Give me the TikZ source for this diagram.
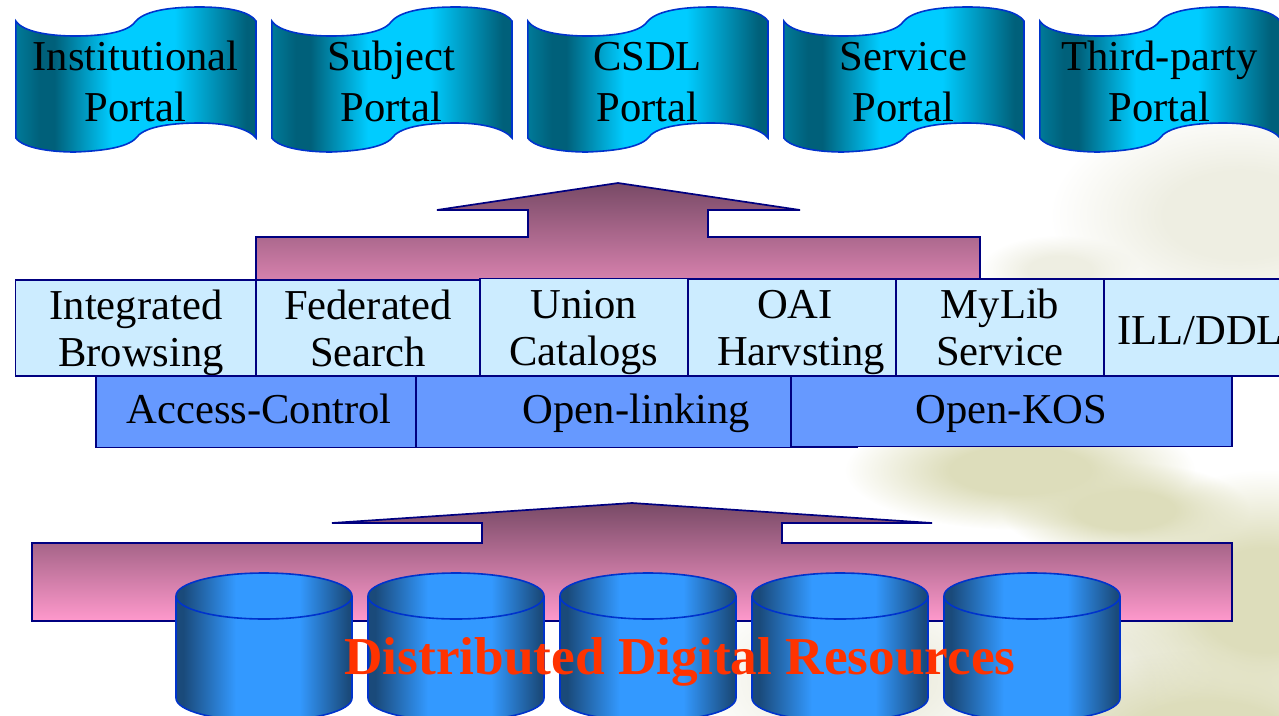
\documentclass[tikz,border=0pt]{standalone}
\usepackage{fontspec}
\setmainfont{Liberation Serif}
\usetikzlibrary{fadings}

\definecolor{bannerline}{HTML}{0033CC}
\definecolor{boxline}{HTML}{000080}
\definecolor{arrowtop}{HTML}{784A66}
\definecolor{arrowbot}{HTML}{FF99CC}
\definecolor{lightbox}{HTML}{CCECFF}
\definecolor{midbox}{HTML}{6699FF}
\definecolor{canlight}{HTML}{3399FF}
\definecolor{candark}{HTML}{1A4A7A}
\definecolor{bandark}{HTML}{00607A}
\definecolor{banedge}{HTML}{007A99}
\definecolor{banlight}{HTML}{00CCFF}
\definecolor{blobcol}{HTML}{DDDDBB}
\definecolor{blobpale}{HTML}{EEEEE2}
\definecolor{titlecol}{HTML}{FF3300}

\pgfdeclarehorizontalshading{bannershade}{100bp}{color(0bp)=(banedge); color(25bp)=(banedge); color(30bp)=(bandark); color(33bp)=(bandark); color(45bp)=(banlight); color(58bp)=(banlight); color(73bp)=(bandark); color(100bp)=(bandark)}
\pgfdeclarehorizontalshading{canshade}{100bp}{color(0bp)=(candark); color(27bp)=(candark); color(42bp)=(canlight); color(60bp)=(canlight); color(74bp)=(candark); color(100bp)=(candark)}
\pgfdeclareradialshading{softmask}{\pgfpointorigin}{color(0bp)=(white); color(10bp)=(white); color(25bp)=(black); color(50bp)=(black)}
\pgfdeclarefading{softblob}{\pgfuseshading{softmask}}

\tikzset{
  portaltext/.style={align=center, inner sep=0pt, text height=80pt, text depth=0pt, font=\fontsize{42.6}{51}\selectfont},
  topbox/.style={draw=boxline, line width=1.5pt, fill=lightbox, anchor=north west, align=center, inner sep=0pt, outer sep=0pt, font=\fontsize{42.6}{47}\selectfont},
  twoline/.style={text height=76pt, text depth=0pt},
  midrow/.style={draw=boxline, line width=1.5pt, fill=midbox, anchor=north west, minimum height=71.5pt, inner sep=0pt, outer sep=0pt, text height=29pt, text depth=5pt, font=\fontsize{42.6}{47}\selectfont},
  bigarrow/.style={draw=boxline, line width=1.7pt, top color=arrowtop, bottom color=arrowbot},
  blob/.style={fill=blobcol, path fading=softblob},
  paleblob/.style={fill=blobpale, path fading=softblob}
}

\begin{document}
\begin{tikzpicture}[x=1pt,y=-1pt]
    \useasboundingbox (0,0) rectangle (1279,715);

    % Faint background picture
    \fill[paleblob] (1240,215) ellipse [x radius=190pt, y radius=110pt];
    \fill[paleblob] (1060,270) ellipse [x radius=80pt, y radius=35pt];
    \fill[paleblob] (860,680) ellipse [x radius=170pt, y radius=100pt];
    \fill[paleblob] (1100,680) ellipse [x radius=130pt, y radius=110pt];
    \fill[blob] (1020,470) ellipse [x radius=175pt, y radius=60pt];
    \fill[blob] (1125,510) ellipse [x radius=125pt, y radius=48pt];
    \fill[blob] (1265,600) ellipse [x radius=165pt, y radius=130pt];
    \fill[blob] (1210,735) ellipse [x radius=190pt, y radius=85pt];

    % Portals along the top
    \foreach \px/\pname/\ptext in {15/instportal/Institutional\\Portal,
        271/subjportal/Subject\\Portal, 527/csdlportal/CSDL\\Portal,
        783/servportal/Service\\Portal, 1039/thirdportal/Third-party\\Portal}{
      \begin{scope}[shift={(\px,0)}]
        \shade[shading=bannershade, draw=bannerline, line width=1.6pt]
          (0.8,21) .. controls (8,32) and (35,36) .. (60,36)
          .. controls (85,36) and (112,33) .. (120,22)
          .. controls (128,12) and (150,7) .. (185,7)
          .. controls (215,7) and (235,12) .. (241,21)
          -- (241,138) .. controls (235,130) and (215,123) .. (185,123)
          .. controls (150,123) and (128,128) .. (121,138)
          .. controls (112,148) and (85,151) .. (60,152)
          .. controls (35,152) and (8,148) .. (0.8,138) -- cycle;
      \end{scope}
      \node[portaltext] (\pname) at (\px+120.5,81) {\ptext};
    }

    % Upper arrow, its foot goes behind the boxes
    \path[bigarrow] (618,183) -- (800,210) -- (708,210) -- (708,237) -- (980,237)
      -- (980,322) -- (256,322) -- (256,237) -- (528,237) -- (528,210) -- (437,210) -- cycle;

    % Service boxes
    \node[topbox, twoline, minimum width=241pt, minimum height=96pt] (browsing) at (15.5,280) {Integrated\\\hspace*{10pt}Browsing};
    \node[topbox, twoline, minimum width=224pt, minimum height=96pt] (federated) at (256,280) {Federated\\Search};
    \node[topbox, twoline, minimum width=208pt, minimum height=97pt] (oai) at (688,279) {\hspace*{6pt}OAI\\\hspace*{18pt}Harvsting};
    \node[topbox, twoline, minimum width=208pt, minimum height=97pt] (union) at (480,278.5) {Union\\Catalogs};
    \node[topbox, twoline, minimum width=208pt, minimum height=97pt] (mylib) at (896,279) {MyLib\\Service};
    \node[topbox, text height=33pt, text depth=0pt, minimum width=192pt, minimum height=97pt] (illddl) at (1104,279) {ILL/DDL};

    % Access layer
    \node[midrow, minimum width=326pt] (access) at (96,376) {Access-Control};
    \node[midrow, minimum width=441pt] (linking) at (416,376) {Open-linking};
    \node[midrow, minimum width=441pt, minimum height=70.5pt] (openkos) at (791,376) {Open-KOS};

    % Lower arrow
    \path[bigarrow] (632,503) -- (932,523) -- (782,523) -- (782,543) -- (1232,543)
      -- (1232,621) -- (32,621) -- (32,543) -- (482,543) -- (482,523) -- (332,523) -- cycle;

    % Resource cylinders
    \foreach \cx in {176,368,560,752,944}{
      \begin{scope}[shift={(\cx,0)}]
        \shade[shading=canshade, draw=bannerline, line width=1.6pt]
          (0,596) -- (0,698) .. controls (0,711) and (39,721) .. (88,721)
          .. controls (137,721) and (176,711) .. (176,698) -- (176,596)
          .. controls (176,583) and (137,573) .. (88,573)
          .. controls (39,573) and (0,583) .. (0,596) -- cycle;
        \draw[bannerline, line width=1.6pt] (0,596) .. controls (0,609) and (39,619) .. (88,619)
          .. controls (137,619) and (176,609) .. (176,596);
      \end{scope}
    }

    % Label
    \node[inner sep=0pt, text=titlecol, font=\fontsize{53.3}{60}\selectfont\bfseries] (resources) at (680,662) {Distributed Digital Resources};
\end{tikzpicture}
\end{document}
